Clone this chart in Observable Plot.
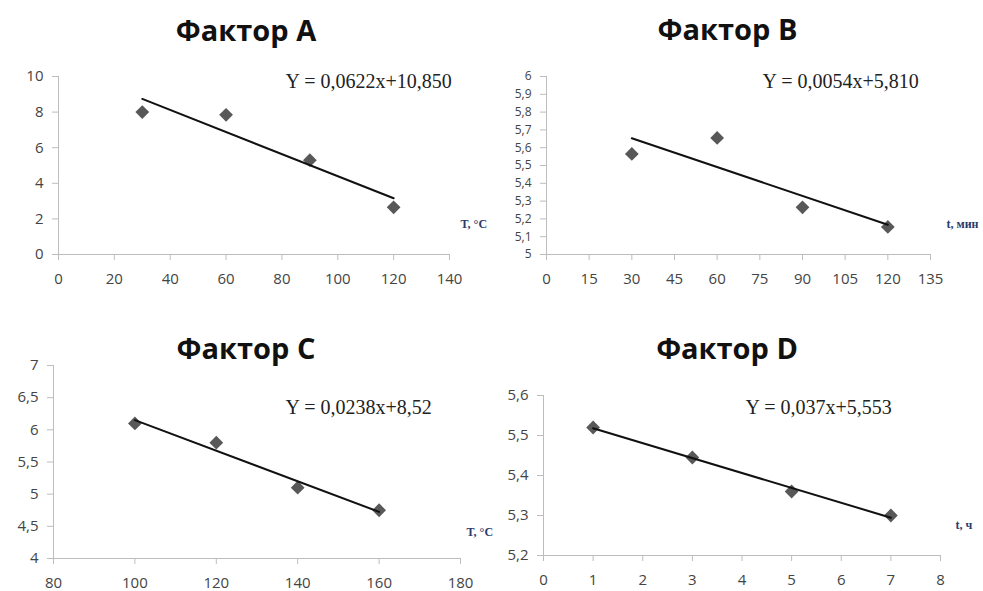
<!DOCTYPE html>
<html>
<head>
<meta charset="utf-8">
<script src="https://cdn.jsdelivr.net/npm/d3@7"></script>
<script src="https://cdn.jsdelivr.net/npm/@observablehq/plot@0.6"></script>
<style>
  body { margin: 0; background: #fff; }
  #wrap { position: relative; width: 983px; height: 591px; overflow: hidden; background: #fff; }
  .panel { position: absolute; }
</style>
</head>
<body>
<div id="wrap"></div>
<script>
// ---- data ----
const titles = ["Фактор А", "Фактор В", "Фактор С", "Фактор D"];
const equations = ["Y = 0,0622x+10,850", "Y = 0,0054x+5,810", "Y = 0,0238x+8,52", "Y = 0,037x+5,553"];
const axisLabels = ["T, °C", "t, мин", "T, °C", "t, ч"];

const xA = [30, 60, 90, 120];
const yA = [8.0, 7.85, 5.3, 2.65];
const xB = [30, 60, 90, 120];
const yB = [5.565, 5.655, 5.265, 5.155];
const xC = [100, 120, 140, 160];
const yC = [6.1, 5.8, 5.1, 4.75];
const xD = [1, 3, 5, 7];
const yD = [5.52, 5.445, 5.36, 5.30];

const xTicksA = [0, 20, 40, 60, 80, 100, 120, 140];
const yTicksA = [0, 2, 4, 6, 8, 10];
const xTicksB = [0, 15, 30, 45, 60, 75, 90, 105, 120, 135];
const yTicksB = [5, 5.1, 5.2, 5.3, 5.4, 5.5, 5.6, 5.7, 5.8, 5.9, 6];
const xTicksC = [80, 100, 120, 140, 160, 180];
const yTicksC = [4, 4.5, 5, 5.5, 6, 6.5, 7];
const xTicksD = [0, 1, 2, 3, 4, 5, 6, 7, 8];
const yTicksD = [5.2, 5.3, 5.4, 5.5, 5.6];

// ---- layout ----
const panels = [
  {xs: xA, ys: yA, xt: xTicksA, yt: yTicksA, left: 0, top: 0, w: 490, h: 300, yfs: 15,
   m: {l: 58, r: 41, t: 76, b: 46}, title: {dx: -8, dy: -45}, eq: {dx: 227, dy: -3}, lab: {dx: 11, dy: -27}},
  {xs: xB, ys: yB, xt: xTicksB, yt: yTicksB, left: 490, top: 0, w: 493, h: 300, yfs: 12,
   m: {l: 56, r: 53, t: 76, b: 46}, title: {dx: -11, dy: -46}, eq: {dx: 216, dy: -3}, lab: {dx: 16, dy: -27}},
  {xs: xC, ys: yC, xt: xTicksC, yt: yTicksC, left: 0, top: 300, w: 490, h: 291, yfs: 15,
   m: {l: 53, r: 30, t: 65, b: 33}, title: {dx: -11, dy: -16}, eq: {dx: 232, dy: 34}, lab: {dx: 6, dy: -23}},
  {xs: xD, ys: yD, xt: xTicksD, yt: yTicksD, left: 490, top: 300, w: 493, h: 291, yfs: 15,
   m: {l: 53, r: 43, t: 95, b: 36}, title: {dx: -15, dy: -46}, eq: {dx: 202, dy: 4}, lab: {dx: 15, dy: -27}}
];

const fmt = d => String(d).replace(".", ",");
const wrap = document.getElementById("wrap");

panels.forEach((p, i) => {
  const data = p.xs.map((x, k) => ({x, y: p.ys[k]}));
  const xDom = [p.xt[0], p.xt[p.xt.length - 1]];
  const yDom = [p.yt[0], p.yt[p.yt.length - 1]];
  const chart = Plot.plot({
    width: p.w,
    height: p.h,
    marginLeft: p.m.l,
    marginRight: p.m.r,
    marginTop: p.m.t,
    marginBottom: p.m.b,
    style: {fontFamily: "'Open Sans', sans-serif", fontSize: "15px", color: "#444", background: "transparent", overflow: "visible"},
    x: {domain: xDom},
    y: {domain: yDom},
    marks: [
      Plot.axisX({ticks: p.xt, tickFormat: fmt, tickSize: 6, tickPadding: 13, stroke: "#bdbdbd", fill: "#444", label: null}),
      Plot.axisY({ticks: p.yt, tickFormat: fmt, tickSize: 6, tickPadding: 9, stroke: "#bdbdbd", fill: "#444", label: null, fontSize: p.yfs}),
      Plot.ruleY([yDom[0]], {stroke: "#bdbdbd"}),
      Plot.ruleX([xDom[0]], {stroke: "#bdbdbd"}),
      Plot.dot(data, {x: "x", y: "y", symbol: "diamond2", r: 6.2, fill: "#585858", stroke: "none"}),
      Plot.linearRegressionY(data, {x: "x", y: "y", ci: 0, stroke: "#111", strokeWidth: 2}),
      Plot.text([titles[i]], {frameAnchor: "top", dx: p.title.dx, dy: p.title.dy - 11, fontSize: 29, fontWeight: "bold", fill: "#111", fontFamily: "'Open Sans', sans-serif"}),
      Plot.text([equations[i]], {frameAnchor: "top-left", textAnchor: "start", dx: p.eq.dx, dy: p.eq.dy, fontSize: 20, fill: "#222", fontFamily: "'Liberation Serif', serif"}),
      Plot.text([axisLabels[i]], {frameAnchor: "bottom-right", textAnchor: "start", dx: p.lab.dx, dy: p.lab.dy, fontSize: 12, fontWeight: "bold", fill: "#2b3a6b", fontFamily: "'Liberation Serif', serif"})
    ]
  });
  const div = document.createElement("div");
  div.className = "panel";
  div.style.left = p.left + "px";
  div.style.top = p.top + "px";
  div.appendChild(chart);
  wrap.appendChild(div);
});
</script>
</body>
</html>
